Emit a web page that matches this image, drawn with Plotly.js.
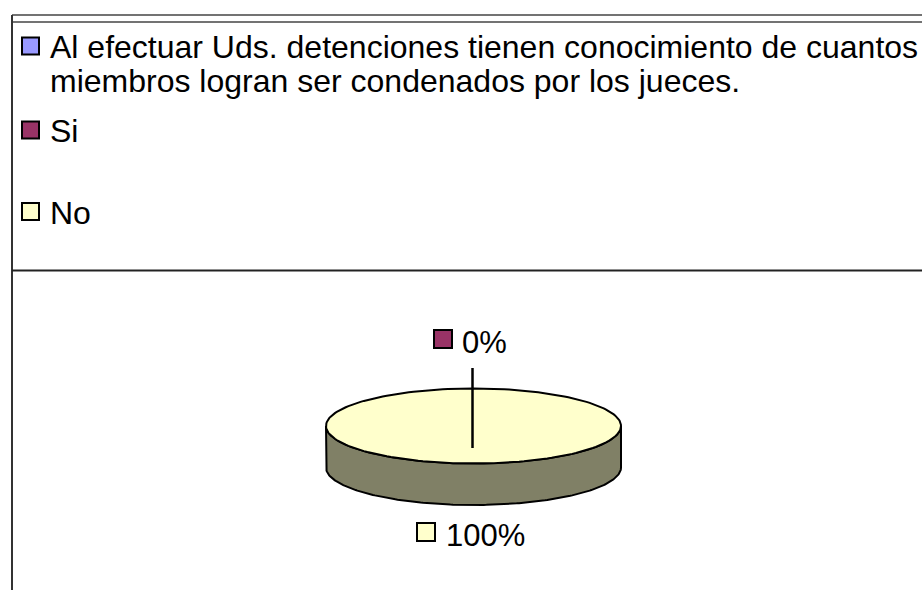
<!DOCTYPE html>
<html>
<head>
<meta charset="utf-8">
<script src="https://cdn.plot.ly/plotly-3.0.1.min.js"></script>
<style>
  html, body { margin: 0; padding: 0; background: #ffffff; }
  #chart { width: 922px; height: 590px; }
</style>
</head>
<body>
<div id="chart"></div>
<script>
// ---- data ----
const seriesName = "Al efectuar Uds. detenciones tienen conocimiento de cuantos<br>miembros logran ser condenados por los jueces.";
const categories = ["Si", "No"];
const values = [0, 100];
const seriesColor = "#9999FF";
const sliceColors = ["#993366", "#FFFFCC"];
const sideColors = ["#4D1A33", "#808066"];

// ---- geometry / style ----
const W = 922, H = 590;
const FONT = "Liberation Sans, Arial, sans-serif";
const cx = 473.5, cy = 426, rx = 147.5, ry = 37.5, depth = 41.5;
const N = 180;

function pt(theta, dy) { // theta in degrees clockwise from top (back)
  const t = theta * Math.PI / 180;
  return [cx + rx * Math.sin(t), cy - ry * Math.cos(t) + (dy || 0)];
}

const total = values.reduce((a, b) => a + b, 0);
const traces = [];
let start = 0;
const sliceRanges = values.map(v => {
  const a0 = start, a1 = start + 360 * v / total;
  start = a1;
  return [a0, a1];
});

// side walls (front half visible: 90..270 degrees)
sliceRanges.forEach(([a0, a1], i) => {
  if (values[i] <= 0) return;
  const s = Math.max(a0, 90), e = Math.min(a1, 270);
  if (e <= s) return;
  const xs = [], ys = [];
  for (let k = 0; k <= N; k++) { const p = pt(s + (e - s) * k / N, 0); xs.push(p[0]); ys.push(p[1]); }
  for (let k = N; k >= 0; k--) { const p = pt(s + (e - s) * k / N, depth); xs.push(p[0]); ys.push(p[1]); }
  xs.push(xs[0]); ys.push(ys[0]);
  traces.push({type: "scatter", mode: "lines", x: xs, y: ys, fill: "toself",
    fillcolor: sideColors[i], line: {color: "#000000", width: 2}, hoverinfo: "skip", showlegend: false});
});

// top faces
sliceRanges.forEach(([a0, a1], i) => {
  if (values[i] <= 0) return;
  const xs = [], ys = [];
  const full = (a1 - a0) >= 359.999;
  if (!full) { xs.push(cx); ys.push(cy); }
  for (let k = 0; k <= N; k++) { const p = pt(a0 + (a1 - a0) * k / N, 0); xs.push(p[0]); ys.push(p[1]); }
  if (!full) { xs.push(cx); ys.push(cy); }
  traces.push({type: "scatter", mode: "lines", x: xs, y: ys, fill: "toself",
    fillcolor: sliceColors[i], line: {color: "#000000", width: 2}, hoverinfo: "skip", showlegend: false});
});

// ---- frame, legend, labels ----
const shapes = [
  {type: "line", x0: 12, x1: W, y0: 15, y1: 15, line: {color: "#444", width: 1.5}},
  {type: "line", x0: 12, x1: W, y0: 22, y1: 22, line: {color: "#444", width: 1.5}},
  {type: "line", x0: 12, x1: 12, y0: 15, y1: H, line: {color: "#333", width: 2}},
  {type: "line", x0: 12, x1: W, y0: 270.5, y1: 270.5, line: {color: "#222", width: 2}},
  // leader line for the 0% label
  {type: "line", x0: 472.5, x1: 472.5, y0: 368, y1: 448, line: {color: "#000", width: 2.5}}
];
const annotations = [];
const LFS = 32;

// legend entries
const legendLabels = [seriesName].concat(categories);
const legendColors = [seriesColor].concat(sliceColors);
const legendRowY = [46, 130, 211.5];
const lineStep = 33.5;
legendLabels.forEach((lab, i) => {
  const yc = legendRowY[i];
  shapes.push({type: "rect", x0: 22, x1: 39, y0: yc - 8.5, y1: yc + 8.5,
    fillcolor: legendColors[i], line: {color: "#000", width: 2}});
  lab.split("<br>").forEach((ln, j) => {
    annotations.push({x: 50, y: yc + 1 + j * lineStep, xref: "x", yref: "y", text: ln,
      showarrow: false, xanchor: "left", yanchor: "middle", borderpad: 0, borderwidth: 0,
      font: {family: FONT, size: LFS, color: "#000"}});
  });
});

// data labels
const labelPos = [
  {sq: [434, 330], tx: 462, ty: 342},
  {sq: [417, 523], tx: 446, ty: 535}
];
values.forEach((v, i) => {
  const p = labelPos[i];
  shapes.push({type: "rect", x0: p.sq[0], x1: p.sq[0] + 18, y0: p.sq[1], y1: p.sq[1] + 18,
    fillcolor: sliceColors[i], line: {color: "#000", width: 2}});
  annotations.push({x: p.tx, y: p.ty, xref: "x", yref: "y",
    text: Math.round(100 * v / total) + "%", showarrow: false, xanchor: "left", yanchor: "middle",
    borderpad: 0, borderwidth: 0, font: {family: FONT, size: 31, color: "#000"}});
});

const layout = {
  width: W, height: H,
  margin: {l: 0, r: 0, t: 0, b: 0},
  paper_bgcolor: "#ffffff", plot_bgcolor: "#ffffff",
  showlegend: false,
  xaxis: {range: [0, W], visible: false, fixedrange: true},
  yaxis: {range: [H, 0], visible: false, fixedrange: true},
  shapes: shapes,
  annotations: annotations
};

Plotly.newPlot("chart", traces, layout, {displayModeBar: false, staticPlot: true});
</script>
</body>
</html>
